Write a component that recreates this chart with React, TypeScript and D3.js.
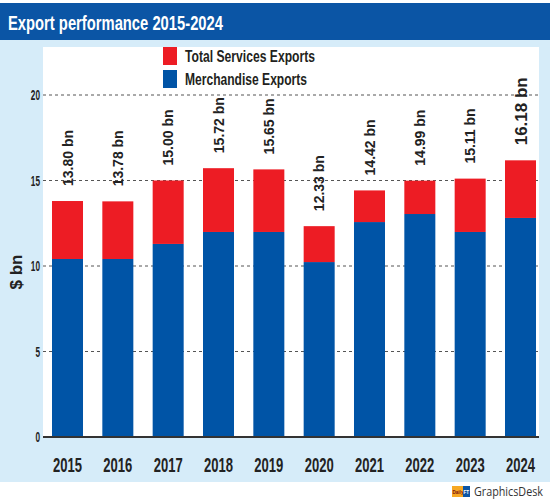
import React from "react";
import * as d3 from "d3";

const years = ["2015", "2016", "2017", "2018", "2019", "2020", "2021", "2022", "2023", "2024"];
const merchandise = [10.41, 10.41, 11.29, 11.99, 11.99, 10.23, 12.57, 13.04, 11.99, 12.81];
const services = [3.39, 3.37, 3.71, 3.73, 3.66, 2.1, 1.85, 1.95, 3.12, 3.37];
const totalLabels = ["13.80 bn", "13.78 bn", "15.00 bn", "15.72 bn", "15.65 bn", "12.33 bn", "14.42 bn", "14.99 bn", "15.11 bn", "16.18 bn"];
const yTicks = [0, 5, 10, 15, 20];
const seriesNames = ["Total Services Exports", "Merchandise Exports"];

const W = 550;
const H = 500;
const RED = "#ed1c24";
const BLUE = "#0054a6";
const TITLE_BLUE = "#0b55a5";
const LIGHT = "#d6ecf9";
const FONT = "'Liberation Sans', Arial, sans-serif";

export default function App() {
  const x = d3.scaleBand<string>().domain(years).range([52, 536]).paddingInner(0.384).paddingOuter(0);
  const y = d3.scaleLinear().domain([0, 20]).range([437, 95]);
  const bw = x.bandwidth();

  return (
    <svg width={W} height={H} style={{ position: "absolute", left: 0, top: 0 }} fontFamily={FONT}>
      <rect x={0} y={0} width={W} height={H} fill="#fff" />
      <rect x={0} y={3} width={W} height={37} fill={TITLE_BLUE} />
      <text x={8} y={30} fill="#fff" fontSize={21} fontWeight="bold" textLength={215} lengthAdjust="spacingAndGlyphs">
        Export performance 2015-2024
      </text>
      <rect x={0} y={40} width={W} height={442} fill={LIGHT} />
      <rect x={43} y={47} width={496} height={390} fill="#fff" />

      {/* gridlines */}
      {yTicks.filter((t) => t > 0).map((t) => (
        <line key={t} x1={43} x2={539} y1={y(t)} y2={y(t)} stroke="#555" strokeWidth={1} strokeDasharray="3,3" />
      ))}
      {yTicks.map((t) => (
        <text key={"l" + t} transform={`translate(40,${y(t) + 5}) scale(0.55,1)`} textAnchor="end" fontSize={15} fontWeight="bold" fill="#222">
          {t}
        </text>
      ))}

      {/* bars */}
      {years.map((yr, i) => (
        <g key={yr}>
          <rect x={x(yr)} y={y(merchandise[i])} width={bw} height={y(0) - y(merchandise[i])} fill={BLUE} />
          <rect x={x(yr)} y={y(merchandise[i] + services[i])} width={bw} height={y(merchandise[i]) - y(merchandise[i] + services[i])} fill={RED} />
        </g>
      ))}
      <line x1={43} x2={539} y1={y(0)} y2={y(0)} stroke="#333" strokeWidth={2} />

      {/* value labels */}
      {years.map((yr, i) => {
        const big = i === years.length - 1;
        const fs = big ? 17 : 14;
        const cx = (x(yr) as number) + bw / 2 + fs * 0.36;
        const ty = y(merchandise[i] + services[i]) - 15;
        return (
          <text key={"v" + yr} transform={`translate(${cx},${ty}) rotate(-90)`} fontSize={fs} fontWeight="bold" fill="#222">
            {totalLabels[i]}
          </text>
        );
      })}

      {/* year labels */}
      {years.map((yr) => (
        <text key={"x" + yr} x={(x(yr) as number) + bw / 2} y={472} textAnchor="middle" fontSize={20} fontWeight="bold" fill="#222" textLength={29} lengthAdjust="spacingAndGlyphs">
          {yr}
        </text>
      ))}

      {/* y-axis title */}
      <text transform="translate(22,272) rotate(-90)" textAnchor="middle" fontSize={17} fontWeight="bold" fill="#222">
        $ bn
      </text>

      {/* legend */}
      <rect x={163} y={47} width={14} height={18} fill={RED} />
      <rect x={163} y={70} width={14} height={18} fill={BLUE} />
      <text x={185} y={62} fontSize={17} fontWeight="bold" fill="#231f20" textLength={130} lengthAdjust="spacingAndGlyphs">
        {seriesNames[0]}
      </text>
      <text x={185} y={85} fontSize={17} fontWeight="bold" fill="#231f20" textLength={122} lengthAdjust="spacingAndGlyphs">
        {seriesNames[1]}
      </text>

      {/* logo */}
      <rect x={452} y={486} width={11} height={11} fill="#f7a823" />
      <rect x={463} y={486} width={7} height={11} fill={TITLE_BLUE} />
      <text x={452.5} y={494} fontSize={5} fontWeight="bold" textLength={16.5} lengthAdjust="spacingAndGlyphs">
        <tspan fill="#7a1010">Daily</tspan>
        <tspan fill="#fff">FT</tspan>
      </text>
      <text x={474} y={496} fontSize={12} fill="#333" fontFamily="'Open Sans', sans-serif" textLength={69} lengthAdjust="spacingAndGlyphs">
        GraphicsDesk
      </text>
    </svg>
  );
}
